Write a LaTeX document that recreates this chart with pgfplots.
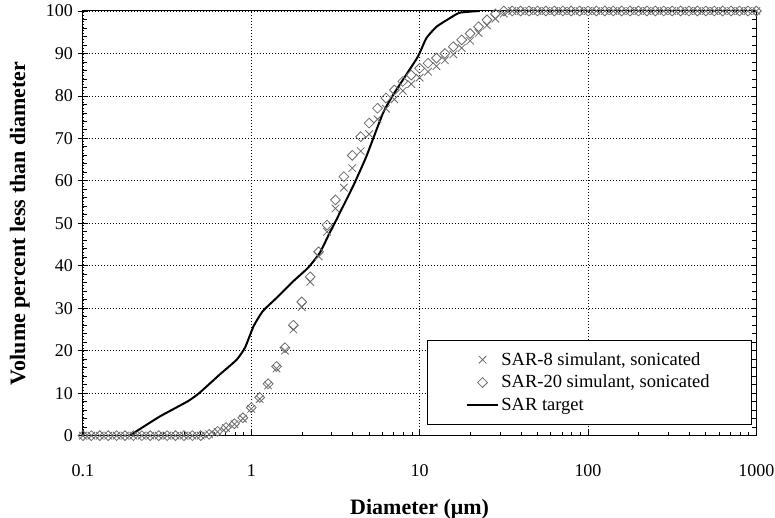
\documentclass[border=0pt]{standalone}
\usepackage{pgfplots}
\usepackage{pgfplotstable}
\pgfplotsset{compat=1.18}
\usepackage{fontspec}
\setmainfont{Liberation Serif}
\definecolor{mk}{gray}{0.42}

\pgfplotstableread{
x a b
0.1 0 0
0.1122 0 0
0.1259 0 0
0.1413 0 0
0.1585 0 0
0.1778 0 0
0.1995 0 0
0.2239 0 0
0.2512 0 0
0.2818 0 0
0.3162 0 0
0.3548 0 0
0.3981 0 0
0.4467 0 0
0.5012 0 0
0.5623 0.3 0.3
0.6310 0.9 1.0
0.7079 1.8 1.9
0.7943 2.7 2.8
0.8913 4.0 4.2
1.0 6.3 6.6
1.122 8.6 9.0
1.259 11.8 12.2
1.413 15.8 16.3
1.585 20.0 20.7
1.778 25.0 26.0
1.995 30.3 31.5
2.239 36.2 37.4
2.512 42.2 43.3
2.818 48.0 49.6
3.162 53.5 55.5
3.548 58.4 61.0
3.981 63.0 66.0
4.467 67.0 70.4
5.012 71.0 73.6
5.623 74.5 77.1
6.310 77.0 79.5
7.079 79.2 81.4
7.943 81.2 83.4
8.913 82.8 84.9
10 84.3 86.5
11.22 85.7 87.7
12.59 87.0 88.9
14.13 88.4 90.0
15.85 89.8 91.6
17.78 91.3 93.2
19.95 93.0 94.7
22.39 94.8 96.3
25.12 96.6 97.9
28.18 98.2 99.3
31.62 99.4 100
35.48 100 100
39.81 100 100
44.67 100 100
50.12 100 100
56.23 100 100
63.10 100 100
70.79 100 100
79.43 100 100
89.13 100 100
100 100 100
112.2 100 100
125.9 100 100
141.3 100 100
158.5 100 100
177.8 100 100
199.5 100 100
223.9 100 100
251.2 100 100
281.8 100 100
316.2 100 100
354.8 100 100
398.1 100 100
446.7 100 100
501.2 100 100
562.3 100 100
631.0 100 100
707.9 100 100
794.3 100 100
891.3 100 100
1000 100 100
}\sim

\begin{document}
\begin{tikzpicture}
\useasboundingbox (-62.25pt,-61.5pt) rectangle (519.5pt,327pt);
\begin{axis}[
  at={(0,0)}, anchor=south west,
  scale only axis, width=505.5pt, height=318.75pt,
  xmode=log, xmin=0.1, xmax=1000, ymin=0, ymax=100,
  xtick={0.1,1,10,100,1000}, xticklabels={0.1,1,10,100,1000},
  ytick={0,10,...,100}, minor y tick num=4,
  tick align=inside, xtick pos=bottom, ytick pos=both,
  major tick length=4pt, minor tick length=3pt,
  xmajorgrids, ymajorgrids,
  grid style={black, line width=0.6pt, dash pattern=on 0.75pt off 1.5pt},
  axis line style={black, line width=0.75pt},
  tick style={black, line width=0.6pt},
  extra y ticks={0,10,...,100}, extra y tick labels={},
  extra y tick style={tick align=outside, major tick length=4pt, grid=none, ytick pos=left},
  /pgf/number format/assume math mode=true,
  ticklabel style={font=\fontsize{13.5}{16}\selectfont},
  xticklabel style={yshift=-18pt},
  yticklabel style={xshift=-4pt},
  xlabel={\textbf{Diameter (μm)}},
  ylabel={\textbf{Volume percent less than diameter}},
  label style={font=\fontsize{16.5}{19}\selectfont, inner sep=0pt},
  xlabel style={at={(axis description cs:0.5,-0.1726)}, anchor=center},
  ylabel style={at={(axis description cs:-0.0935,0.5)}, anchor=center},
  legend style={at={(rel axis cs:0.9926,0.026)}, anchor=south east,
    draw=black, line width=0.6pt, font=\fontsize{13.9}{16}\selectfont,
    inner xsep=29pt, inner ysep=7pt, row sep=2pt},
  legend cell align=left,
  legend image code/.code={\draw[mark repeat=2,mark phase=2,#1] plot coordinates {(0cm,0cm)(0.4cm,0cm)(0.8cm,0cm)};},
]
\addplot[only marks, mark=x, mark size=4pt, mark options={draw=mk, line width=0.6pt}] table[x=x, y=a] {\sim};
\addlegendentry{SAR-8 simulant, sonicated}
\addplot[only marks, mark=square, mark size=2.6pt, mark options={draw=mk, fill=none, rotate=45, line width=0.6pt}] table[x=x, y=b] {\sim};
\addlegendentry{SAR-20 simulant, sonicated}
\addplot[black, line width=1.5pt, smooth, tension=0.3] coordinates {
(0.19,0) (0.2,0.6) (0.286,4.5) (0.42,8.1) (0.49,10) (0.65,14.4) (0.82,17.9)
(0.92,20.8) (1.03,25.7) (1.17,29.3) (1.41,32.4) (1.77,36.3) (2.17,39.5)
(2.55,43) (2.9,47.5) (3.2,50.8) (3.35,52.4) (4.02,58.7) (4.82,65.7)
(6.05,75.9) (6.95,80.2) (7.96,83.8) (9.78,89.3) (10.96,93.6) (12.6,96.3)
(15.1,98.3) (17.3,99.6) (22.7,100)};
\addlegendentry{SAR target}
\end{axis}
\end{tikzpicture}
\end{document}
